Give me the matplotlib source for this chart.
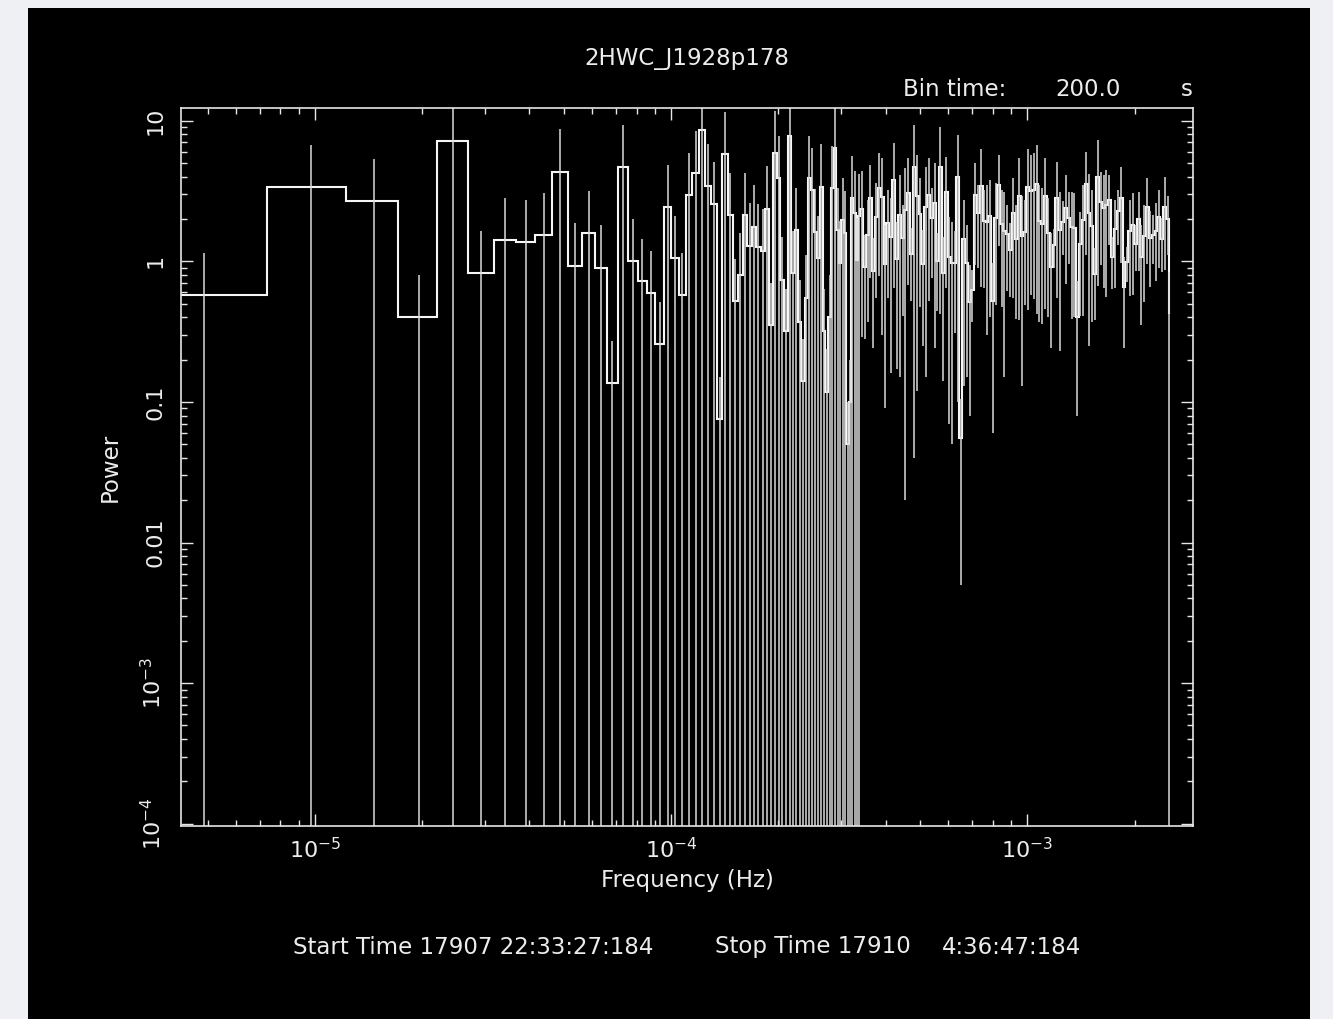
import numpy as np
import matplotlib
matplotlib.use("Agg")
import matplotlib.pyplot as plt
from matplotlib.patches import Rectangle
from matplotlib.ticker import FixedLocator, FixedFormatter, LogLocator, NullFormatter

# ---------------- data ----------------
title = "2HWC_J1928p178"
bin_time = 200.0            # s
n_frame = 1024              # bins per FFT frame
start_text = "Start Time 17907 22:33:27:184"
stop_text = "Stop Time 17910"
stop_clock = "4:36:47:184"

# single-frequency bins n = 1..69 (error = power for unaveraged bins)
low_power = [0.575, 3.36, 2.69, 0.402, 7.17, 0.82, 1.42, 1.36, 1.54, 4.34,
             0.93, 1.58, 0.90, 0.136, 4.66, 1.00, 0.724, 0.59, 0.257, 2.42,
             1.05, 0.575, 2.96, 4.23, 8.59, 3.43, 2.56, 0.0756, 5.76, 2.13,
             0.522, 0.80, 2.13, 1.29, 1.75, 1.27, 1.18, 2.37, 0.35, 5.9,
             3.9, 0.74, 0.32, 7.8, 0.82, 1.67, 0.37, 0.14, 0.55, 3.9,
             3.2, 1.62, 1.05, 3.4, 0.32, 0.118, 0.40, 3.3, 6.4, 1.67,
             0.97, 1.97, 1.59, 0.05, 0.10, 2.8, 2.2, 1.02, 2.1]

# geometrically rebinned high-frequency part
high_power = [2.34, 0.91, 1.55, 2.80, 0.85, 2.07, 3.32, 2.85, 0.95, 1.88,
              1.48, 3.78, 1.04, 2.13, 1.46, 2.30, 3.04, 1.12, 4.68, 2.91,
              2.18, 0.96, 2.43,
              2.96, 2.03, 2.60, 1.01, 4.68, 0.82, 3.10, 1.07, 0.98, 0.97,
              3.99, 0.055, 1.43, 0.98, 0.51, 0.62, 2.95, 2.20, 3.45, 1.93,
              1.90, 2.10, 0.52, 2.04, 3.49, 1.84, 1.64, 1.56,
              1.21, 2.22, 1.45, 2.89, 1.51, 1.61, 3.37, 3.14, 3.20, 3.57,
              1.93, 1.83, 2.93, 1.60, 0.91, 1.30, 2.83, 1.68, 1.89, 2.40,
              2.04, 1.76, 1.72, 0.40, 1.33, 1.95, 3.57, 2.20,
              1.79, 0.81, 3.98, 2.64, 2.38, 2.51, 2.71, 1.07, 1.69, 2.26,
              2.84, 0.66, 0.99, 1.65, 1.81, 1.33, 1.99, 1.08, 1.51, 2.42,
              1.46, 1.54, 1.65, 2.05, 1.43, 2.43, 2.00]
high_err = [2.05, 0.63, 1.18, 2.04, 0.61, 1.52, 2.53, 2.55, 0.86, 1.33,
            1.32, 3.13, 0.87, 1.98, 1.05, 2.28, 2.36, 0.60, 4.64, 2.79,
            1.71, 0.71, 2.28,
            2.44, 1.27, 2.36, 0.57, 4.26, 0.68, 2.45, 1.00, 0.93, 0.66,
            3.89, 0.050, 1.30, 0.83, 0.43, 0.25, 2.01, 1.30, 2.79, 1.28,
            1.60, 1.70, 0.46, 1.55, 2.21, 1.37, 1.49, 0.95,
            0.65, 1.67, 1.06, 2.51, 1.38, 1.12, 2.92, 2.56, 2.66, 3.15,
            1.56, 1.47, 2.47, 1.20, 0.67, 0.40, 2.28, 1.45, 0.78, 1.71,
            1.09, 1.37, 1.32, 0.32, 0.92, 1.54, 2.46, 1.95,
            1.42, 0.43, 3.31, 1.70, 1.73, 1.95, 1.40, 0.43, 1.04, 0.95,
            1.87, 0.42, 0.28, 1.08, 1.23, 0.48, 1.14, 0.73, 1.00, 1.47,
            0.80, 0.59, 0.93, 1.16, 0.59, 1.57, 0.90]

# Nyquist bin (single frequency)
nyq_power = 0.42
nyq_err = 0.42

x_ticks = [1e-5, 1e-4, 1e-3]
x_ticklabels = [r"$\mathregular{10^{-5}}$", r"$\mathregular{10^{-4}}$", r"$\mathregular{10^{-3}}$"]
y_ticks = [1e-4, 1e-3, 1e-2, 1e-1, 1, 10]
y_ticklabels = [r"$\mathregular{10^{-4}}$", r"$\mathregular{10^{-3}}$", "0.01", "0.1", "1", "10"]

# ---------------- derived grids ----------------
df = 1.0 / (n_frame * bin_time)
n_low = len(low_power)
low_edges = (np.arange(n_low + 1) + 0.5) * df
high_edges = np.geomspace((n_low + 0.5) * df, (n_frame / 2 - 0.5) * df, len(high_power) + 1)
edges = np.concatenate([low_edges, high_edges[1:], [(n_frame / 2 + 0.5) * df]])

power = np.concatenate([low_power, high_power, [nyq_power]])
err = np.concatenate([low_power, high_err, [nyq_err]])
centers = np.concatenate([np.arange(1, n_low + 1) * df,
                          np.sqrt(high_edges[:-1] * high_edges[1:]),
                          [(n_frame / 2) * df]])

# ---------------- figure ----------------
W, H = 1333, 1019
fig = plt.figure(figsize=(W / 100, H / 100), dpi=100, facecolor="#eff0f3")
fig.add_artist(Rectangle((28 / W, 0), (1310 - 28) / W, (H - 8) / H,
                         transform=fig.transFigure, facecolor="black",
                         edgecolor="none", zorder=-10))

ax = fig.add_axes([180.7 / W, 1 - 826 / H, (1193.3 - 180.7) / W, (826 - 108) / H])
ax.set_zorder(1)
ax.set_facecolor("black")
ax.set_xscale("log")
ax.set_yscale("log")

lo = np.maximum(power - err, 1e-7)
hi = power + err
ax.vlines(centers, lo, hi, color="#dadada", lw=1.1)
ax.stairs(power, edges, baseline=None, color="#f6f6f6", lw=1.5)

ax.set_xlim(4.2e-6, 2.92e-3)
ax.set_ylim(10 ** -4.016, 10 ** 1.09)

for s in ax.spines.values():
    s.set_color("#e6e6e6")
    s.set_linewidth(1.2)

ax.xaxis.set_major_locator(FixedLocator(x_ticks))
ax.xaxis.set_major_formatter(FixedFormatter(x_ticklabels))
ax.xaxis.set_minor_locator(LogLocator(base=10, subs=np.arange(2, 10), numticks=20))
ax.xaxis.set_minor_formatter(NullFormatter())
ax.yaxis.set_major_locator(FixedLocator(y_ticks))
ax.yaxis.set_major_formatter(FixedFormatter(y_ticklabels))
ax.yaxis.set_minor_locator(LogLocator(base=10, subs=np.arange(2, 10), numticks=20))
ax.yaxis.set_minor_formatter(NullFormatter())

ax.tick_params(which="both", direction="in", top=True, right=True,
               color="#e6e6e6", labelcolor="#ececec", width=1.0)
ax.tick_params(which="major", length=8.5)
ax.tick_params(which="minor", length=4.3)
ax.tick_params(axis="x", which="major", labelsize=16, pad=8)
ax.tick_params(axis="y", which="major", labelsize=16, pad=11)
for lab in ax.get_yticklabels():
    lab.set_rotation(90)
    lab.set_va("center")

txt = dict(color="#ececec", fontsize=16.5)
fig.text(687 / W, 1 - 58 / H, title, ha="center", va="center", **txt)
fig.text(903 / W, 1 - 90 / H, "Bin time:", ha="left", va="center", **txt)
fig.text(1055 / W, 1 - 90 / H, f"{bin_time:.1f}", ha="left", va="center", **txt)
fig.text(1181 / W, 1 - 90 / H, "s", ha="left", va="center", **txt)
fig.text(687 / W, 1 - 880 / H, "Frequency (Hz)", ha="center", va="center", **txt)
fig.text(110 / W, 1 - 467 / H, "Power", ha="center", va="center", rotation=90, **txt)
fig.text(293 / W, 1 - 947 / H, start_text, ha="left", va="center", **txt)
fig.text(715 / W, 1 - 947 / H, stop_text, ha="left", va="center", **txt)
fig.text(942 / W, 1 - 947 / H, stop_clock, ha="left", va="center", **txt)

fig.savefig("out.png", dpi=100, facecolor=fig.get_facecolor())
